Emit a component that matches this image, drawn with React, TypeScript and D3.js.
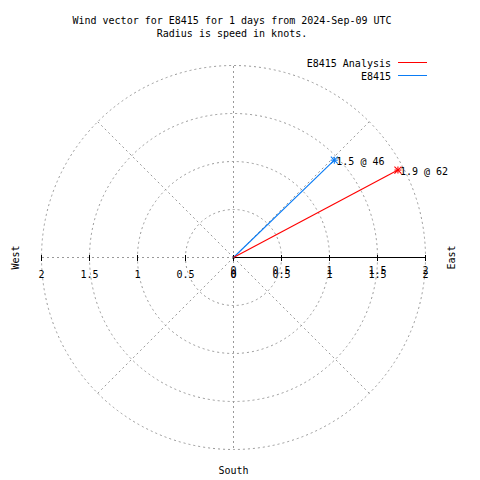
import React from "react";
import * as d3 from "d3";

const titleLines = ["Wind vector for E8415 for 1 days from 2024-Sep-09 UTC", "Radius is speed in knots."];
const seriesNames = ["E8415 Analysis", "E8415"];
const seriesColors = ["#ff0000", "#0a7cf5"];
const speeds = [1.94, 1.46];
const directions = [62, 46];
const valueLabels = ["1.9 @ 62", "1.5 @ 46"];
const radialTicks = [0.5, 1, 1.5, 2];
const axisTicks = [0, 0.5, 1, 1.5, 2];
const axisTickLabels = ["0", "0.5", "1", "1.5", "2"];
const compassLabels = ["West", "East", "South"];

const W = 480, H = 480;
const cx = 233.5, cy = 257.5;
const R = 192;
const font = "'DejaVu Sans Mono', 'Liberation Mono', monospace";
const grid = "#999999";

export default function App() {
  const r = d3.scaleLinear().domain([0, 2]).range([0, R]);
  const pt = (speed: number, dirDeg: number) => {
    const a = (dirDeg * Math.PI) / 180;
    return [cx + r(speed) * Math.sin(a), cy - r(speed) * Math.cos(a)];
  };
  const diag = [45, 135, 225, 315];
  const order = [1, 0];
  return (
    <svg width={W} height={H} style={{ position: "absolute", left: 0, top: 0 }} fontFamily={font} fontSize={10}>
      <rect width={W} height={H} fill="#fff" />
      {titleLines.map((t, i) => (
        <text key={i} x={232} y={24 + i * 13} textAnchor="middle" fill="#000">{t}</text>
      ))}
      {radialTicks.map((v) => (
        <circle key={v} cx={cx} cy={cy} r={r(v)} fill="none" stroke={grid} strokeWidth={1} strokeDasharray="2,3" />
      ))}
      <g shapeRendering="crispEdges">
        <line x1={cx} y1={cy - R} x2={cx} y2={cy + R} stroke={grid} strokeDasharray="2,3" />
        <line x1={cx - R} y1={cy} x2={cx} y2={cy} stroke={grid} strokeDasharray="2,3" />
      </g>
      {diag.map((d) => {
        const [x, y] = pt(2, d);
        return <line key={d} x1={cx} y1={cy} x2={x} y2={y} stroke={grid} strokeDasharray="2,3" />;
      })}
      <g shapeRendering="crispEdges">
        <line x1={cx} y1={cy} x2={cx + r(2)} y2={cy} stroke="#000" strokeWidth={1} />
        {axisTicks.map((v) => (
          <g key={v}>
            <line x1={cx + r(v)} y1={cy - 3} x2={cx + r(v)} y2={cy + 3} stroke="#000" />
            <line x1={cx - r(v)} y1={cy - 3} x2={cx - r(v)} y2={cy + 3} stroke="#000" />
          </g>
        ))}
      </g>
      {axisTicks.map((v, i) => (
        <g key={"l" + v} fill="#000" textAnchor="middle">
          <text x={cx - r(v)} y={278}>{axisTickLabels[i]}</text>
          <text x={cx + r(v)} y={278}>{axisTickLabels[i]}</text>
          <text x={cx + r(v)} y={274}>{axisTickLabels[i]}</text>
        </g>
      ))}
      <text transform={`translate(19,${cy}) rotate(-90)`} textAnchor="middle" fill="#000">{compassLabels[0]}</text>
      <text transform={`translate(455,${cy}) rotate(-90)`} textAnchor="middle" fill="#000">{compassLabels[1]}</text>
      <text x={cx} y={474} textAnchor="middle" fill="#000">{compassLabels[2]}</text>
      {order.map((i) => {
        const [x, y] = pt(speeds[i], directions[i]);
        const s = 3.5;
        return (
          <g key={i} stroke={seriesColors[i]} strokeWidth={1.1}>
            <line x1={cx} y1={cy} x2={x} y2={y} />
            <line x1={x - s} y1={y} x2={x + s} y2={y} />
            <line x1={x} y1={y - s} x2={x} y2={y + s} />
            <line x1={x - s} y1={y - s} x2={x + s} y2={y + s} />
            <line x1={x - s} y1={y + s} x2={x + s} y2={y - s} />
            <text x={x + 2} y={y + 5} stroke="none" fill="#000">{valueLabels[i]}</text>
          </g>
        );
      })}
      {seriesNames.map((n, i) => (
        <g key={n}>
          <text x={391} y={67 + i * 13} textAnchor="end" fill="#000">{n}</text>
          <line x1={398} y1={62.5 + i * 13} x2={427} y2={62.5 + i * 13} stroke={seriesColors[i]} shapeRendering="crispEdges" />
        </g>
      ))}
    </svg>
  );
}
